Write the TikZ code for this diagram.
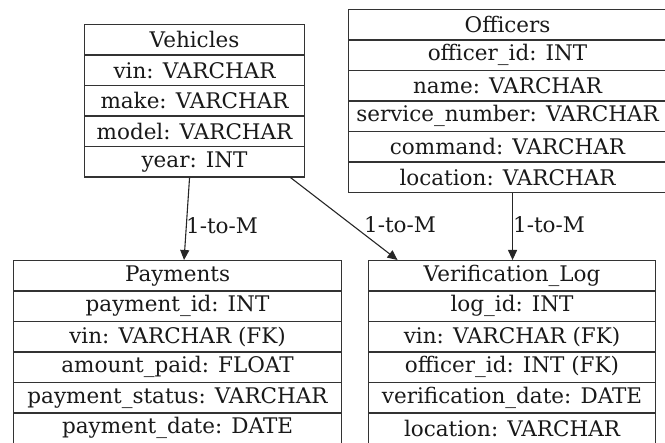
\documentclass[tikz,border=0pt]{standalone}
\usepackage{fontspec}
\setmainfont{DejaVu Serif}
\usetikzlibrary{arrows.meta}
\tikzset{
  row/.style={draw=black!80, line width=1.1pt, minimum height=30.5pt, inner sep=0pt,
    anchor=north west, text=black!90, font=\fontsize{21.5pt}{24pt}\selectfont},
  vehrow/.style={row, minimum width=220pt},
  offrow/.style={row, minimum width=318pt},
  payrow/.style={row, minimum width=328pt},
  verrow/.style={row, minimum width=287pt},
  conn/.style={draw=black!85, line width=1.1pt, -{Triangle[length=10pt,width=9pt]}},
  lab/.style={inner sep=0pt, text=black!90, font=\fontsize{21.5pt}{24pt}\selectfont}
}
\begin{document}
\begin{tikzpicture}[x=1pt,y=-1pt]
\useasboundingbox (0,0) rectangle (665,443);
% Vehicles
\node[vehrow] (veh0) at (84,24) {Vehicles};
\node[vehrow] (veh1) at (84,54.5) {vin: VARCHAR};
\node[vehrow] (veh2) at (84,85) {make: VARCHAR};
\node[vehrow] (veh3) at (84,115.5) {model: VARCHAR};
\node[vehrow] (veh4) at (84,146) {year: INT};
% Officers
\node[offrow] (off0) at (348,9) {Officers};
\node[offrow] (off1) at (348,39.5) {officer\_id: INT};
\node[offrow] (off2) at (348,70) {name: VARCHAR};
\node[offrow] (off3) at (348,100.5) {service\_number: VARCHAR};
\node[offrow] (off4) at (348,131) {command: VARCHAR};
\node[offrow] (off5) at (348,161.5) {location: VARCHAR};
% Payments
\node[payrow] (pay0) at (13,260) {Payments};
\node[payrow] (pay1) at (13,290.5) {payment\_id: INT};
\node[payrow] (pay2) at (13,321) {vin: VARCHAR (FK)};
\node[payrow] (pay3) at (13,351.5) {amount\_paid: FLOAT};
\node[payrow] (pay4) at (13,382) {payment\_status: VARCHAR};
\node[payrow] (pay5) at (13,412.5) {payment\_date: DATE};
% Verification_Log
\node[verrow] (ver0) at (368,260) {Verification\_Log};
\node[verrow] (ver1) at (368,290.5) {log\_id: INT};
\node[verrow] (ver2) at (368,321) {vin: VARCHAR (FK)};
\node[verrow] (ver3) at (368,351.5) {officer\_id: INT (FK)};
\node[verrow] (ver4) at (368,382) {verification\_date: DATE};
\node[verrow] (ver5) at (368,412.5) {location: VARCHAR};
% connectors
\draw[conn] ([xshift=-5pt]veh4.south) -- ([xshift=6.5pt]pay0.north);
\draw[conn] ([xshift=96pt]veh4.south) -- ([xshift=-114.5pt]ver0.north);
\draw[conn] ([xshift=5pt]off5.south) -- ([xshift=0.5pt]ver0.north);
% labels
\node[lab] (lab1) at (222,226) {1-to-M};
\node[lab] (lab2) at (400,225) {1-to-M};
\node[lab] (lab3) at (549,225) {1-to-M};
\end{tikzpicture}
\end{document}
